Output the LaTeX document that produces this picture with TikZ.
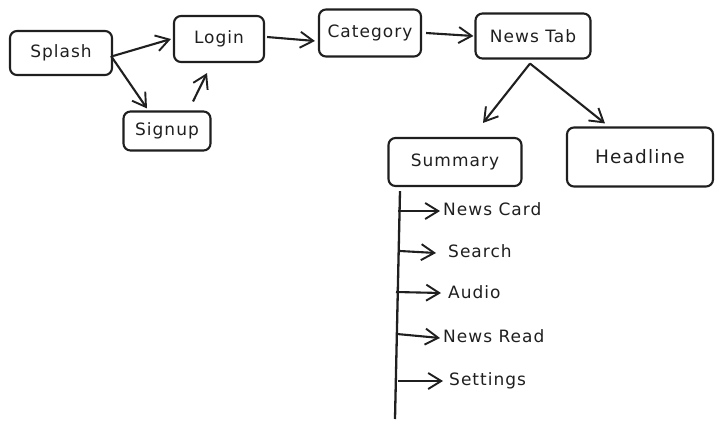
\documentclass[tikz,border=0pt]{standalone}
\usepackage{fontspec}
\setmainfont{DejaVu Sans}[LetterSpace=6]
\usetikzlibrary{arrows.meta,calc}
\begin{document}
\begin{tikzpicture}[x=1pt,y=-1pt,
  box/.style={draw=black!88,line width=2.1pt,rounded corners=7pt,inner sep=0pt,font=\fontsize{17}{19}\selectfont,text=black!88},
  lbl/.style={anchor=west,inner sep=0pt,font=\fontsize{17}{19}\selectfont,text=black!88},
  arr/.style={draw=black!88,line width=2.1pt,-{Straight Barb[length=13pt,width=16pt,line width=1.9pt]}},
  ln/.style={draw=black!88,line width=2.3pt}]
\useasboundingbox (0,0) rectangle (724,429);
\node[box,minimum width=102pt,minimum height=44pt] (splash) at (61,53) {Splash};
\node[box,minimum width=90pt,minimum height=46pt] (login) at (219,39) {Login};
\node[box,minimum width=87pt,minimum height=39pt] (signup) at (167,131) {Signup};
\node[box,minimum width=102pt,minimum height=47pt] (category) at (370,33) {Category};
\node[box,minimum width=115pt,minimum height=45pt] (newstab) at (533,36) {News Tab};
\node[box,minimum width=133pt,minimum height=48pt] (summary) at (455,162) {Summary};
\node[box,minimum width=146pt,minimum height=59pt,font=\fontsize{18.5}{20}\selectfont] (headline) at (640,157) {Headline};

\node[lbl] (card) at (443,209) {News Card};
\node[lbl] (search) at (448,251) {Search};
\node[lbl] (audio) at (448,292) {Audio};
\node[lbl] (read) at (443,336) {News Read};
\node[lbl] (settings) at (449,381) {Settings};

\draw[arr] ([yshift=-3]splash.east) -- ([xshift=-2]login.west);
\draw[arr] ([shift={(-2,3)}]splash.east) -- ([shift={(-20,-2)}]signup.north);
\draw[arr] ([shift={(26,-9)}]signup.north) -- ([shift={(-12,10)}]login.south);
\draw[arr] ([shift={(2,-2)}]login.east) -- ([shift={(-3,8)}]category.west);
\draw[arr] ([xshift=4]category.east) -- ([xshift=-1]newstab.west);
\coordinate (fork) at ([shift={(-3,4)}]newstab.south);
\draw[arr] (fork) -- ([shift={(28,-14)}]summary.north);
\draw[arr] (fork) -- ([shift={(-35,-3)}]headline.north);

\coordinate (top) at ([shift={(-55,4)}]summary.south);
\coordinate (bot) at (395,419);
\draw[ln] (top) -- (bot);
\draw[arr] (398,211) -- ([shift={(-3,2)}]card.west);
\draw[arr] (400,251) -- ([shift={(-12,2)}]search.west);
\draw[arr] (396,292) -- ([shift={(-7,1)}]audio.west);
\draw[arr] (397,334) -- ([shift={(-3,2)}]read.west);
\draw[arr] (398,381) -- ([shift={(-6,0)}]settings.west);
\end{tikzpicture}
\end{document}
